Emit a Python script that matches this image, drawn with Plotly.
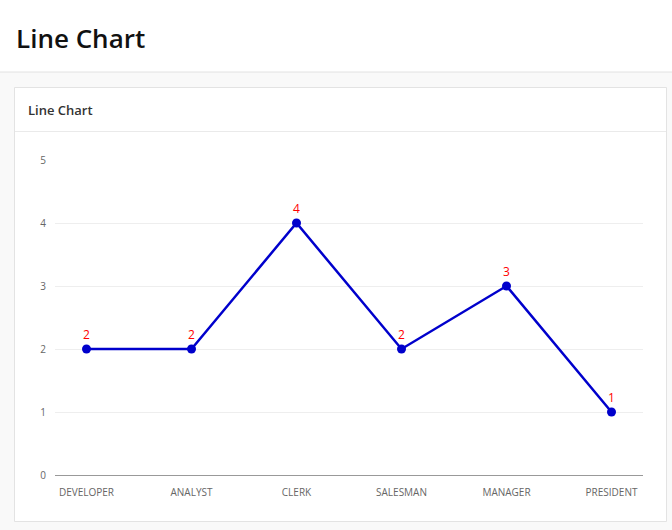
import plotly.graph_objects as go

categories = ["DEVELOPER", "ANALYST", "CLERK", "SALESMAN", "MANAGER", "PRESIDENT"]
values = [2, 2, 4, 2, 3, 1]
y_ticks = [0, 1, 2, 3, 4, 5]

W, H = 672, 530
L, R, T, B = 55, 643, 160, 475

def px(x):
    return (x - L) / (R - L)

def py(y):
    return (B - y) / (B - T)

FONT = "Open Sans, Noto Sans, sans-serif"

fig = go.Figure()
fig.add_trace(go.Scatter(
    x=categories, y=values, mode="lines+markers+text",
    text=[str(v) for v in values], textposition="top center",
    textfont=dict(color="#ff0000", size=12, family=FONT),
    line=dict(color="#0000cc", width=2.5),
    marker=dict(color="#0000cc", size=9),
    cliponaxis=False, hoverinfo="x+y",
))

shapes = [
    dict(type="rect", xref="paper", yref="paper", x0=px(0), x1=px(W), y0=py(72), y1=py(H),
         fillcolor="#f9f9f9", line=dict(width=0), layer="below"),
    dict(type="line", xref="paper", yref="paper", x0=px(0), x1=px(W), y0=py(72), y1=py(72),
         line=dict(color="#e2e2e2", width=1), layer="below"),
    dict(type="rect", xref="paper", yref="paper", x0=px(14.5), x1=px(666.5), y0=py(87.5), y1=py(521.5),
         fillcolor="#ffffff", line=dict(color="#e3e3e3", width=1), layer="below"),
    dict(type="line", xref="paper", yref="paper", x0=px(15), x1=px(666), y0=py(131.5), y1=py(131.5),
         line=dict(color="#eaeaea", width=1), layer="below"),
]

annotations = [
    dict(text="Line Chart", xref="paper", yref="paper", x=px(14), y=py(38),
         xanchor="left", yanchor="middle", showarrow=False,
         font=dict(size=26, color="#111111", family=FONT, weight=600)),
    dict(text="Line Chart", xref="paper", yref="paper", x=px(26), y=py(110),
         xanchor="left", yanchor="middle", showarrow=False,
         font=dict(size=13, color="#333333", family=FONT, weight=600)),
]

fig.update_layout(
    width=W, height=H,
    margin=dict(l=L, r=W - R, t=T, b=H - B, pad=0),
    paper_bgcolor="#ffffff", plot_bgcolor="#ffffff",
    showlegend=False,
    shapes=shapes, annotations=annotations,
    font=dict(family=FONT),
    xaxis=dict(
        type="category", range=[-0.3, 5.3], showgrid=False, zeroline=False,
        showline=True, linecolor="#999999", linewidth=1,
        tickfont=dict(size=10, color="#666666"), ticks="", ticklabelstandoff=8,
        fixedrange=True,
    ),
    yaxis=dict(
        range=[0, 5], tickvals=y_ticks, showgrid=True, gridcolor="#eeeeee", gridwidth=1,
        zeroline=False, showline=False,
        tickfont=dict(size=10, color="#666666"), ticks="", ticklabelstandoff=8,
        fixedrange=True,
    ),
)

fig.write_html("out.html", config={"displayModeBar": False})
